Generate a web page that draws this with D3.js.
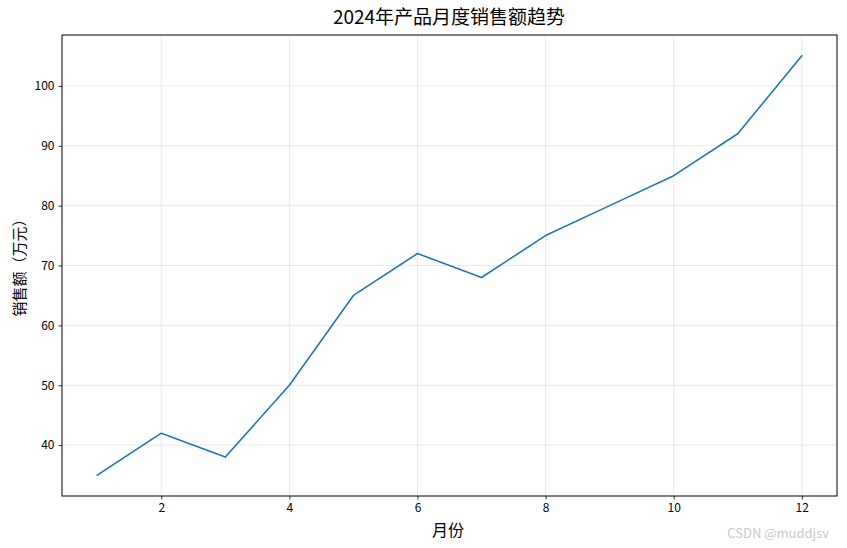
<!DOCTYPE html>
<html><head><meta charset="utf-8">
<script src="https://cdn.jsdelivr.net/npm/d3@7"></script>
<style>body{margin:0;background:#fff;} text{font-family:"Noto Sans CJK SC","DejaVu Sans",sans-serif;}</style>
</head><body>
<svg id="c" width="847" height="548"></svg>
<script>
const months = [1,2,3,4,5,6,7,8,9,10,11,12];
const sales = [35,42,38,50,65,72,68,75,80,85,92,105];
const xTicks = [2,4,6,8,10,12];
const yTicks = [40,50,60,70,80,90,100];
const title = "2024年产品月度销售额趋势";
const xLabel = "月份";
const yLabel = "销售额（万元）";

const svg = d3.select("#c");
const L=62,R=837,T=35,B=496;
const x = d3.scaleLinear().domain([0.45,12.55]).range([L,R]);
const y = d3.scaleLinear().domain([31.5,108.5]).range([B,T]);

const g = svg.append("g");
g.selectAll(".gx").data(xTicks).enter().append("line")
 .attr("x1",d=>x(d)).attr("x2",d=>x(d)).attr("y1",T).attr("y2",B)
 .attr("stroke","#b0b0b0").attr("stroke-opacity",0.35).attr("stroke-width",0.8);
g.selectAll(".gy").data(yTicks).enter().append("line")
 .attr("y1",d=>y(d)).attr("y2",d=>y(d)).attr("x1",L).attr("x2",R)
 .attr("stroke","#b0b0b0").attr("stroke-opacity",0.35).attr("stroke-width",0.8);

svg.append("path").datum(months.map((m,i)=>[m,sales[i]]))
 .attr("fill","none").attr("stroke","#1f77b4").attr("stroke-width",1.6)
 .attr("stroke-linejoin","round").attr("stroke-linecap","square")
 .attr("d",d3.line().x(d=>x(d[0])).y(d=>y(d[1])));

const xa = svg.append("g").attr("transform",`translate(0,${B})`)
 .call(d3.axisBottom(x).tickValues(xTicks).tickSize(3.5).tickPadding(4).tickFormat(d3.format("d")));
const ya = svg.append("g").attr("transform",`translate(${L},0)`)
 .call(d3.axisLeft(y).tickValues(yTicks).tickSize(3.5).tickPadding(4).tickFormat(d3.format("d")));
[xa,ya].forEach(a=>{
  a.select(".domain").remove();
  a.selectAll("text").attr("font-size","12px").attr("fill","#000")
   .attr("font-family","\"Noto Sans CJK SC\",sans-serif");
  a.selectAll("line").attr("stroke","#000").attr("stroke-width",0.8);
});
svg.append("rect").attr("x",L).attr("y",T).attr("width",R-L).attr("height",B-T)
 .attr("fill","none").attr("stroke","#000").attr("stroke-width",1);

svg.append("text").attr("x",449).attr("y",24).attr("text-anchor","middle")
 .attr("font-size","19px").attr("fill","#000").text(title);
svg.append("text").attr("x",448).attr("y",536).attr("text-anchor","middle")
 .attr("font-size","16px").attr("fill","#000").text(xLabel);
svg.append("text").attr("transform",`translate(25,264) rotate(-90)`).attr("text-anchor","middle")
 .attr("font-size","15px").attr("fill","#000").text(yLabel);
svg.append("text").attr("x",829).attr("y",538).attr("text-anchor","end")
 .attr("font-size","13px").attr("fill","#c8c8c8").attr("font-family","\"Liberation Sans\",sans-serif").text("CSDN @muddjsv");
</script>
</body></html>
